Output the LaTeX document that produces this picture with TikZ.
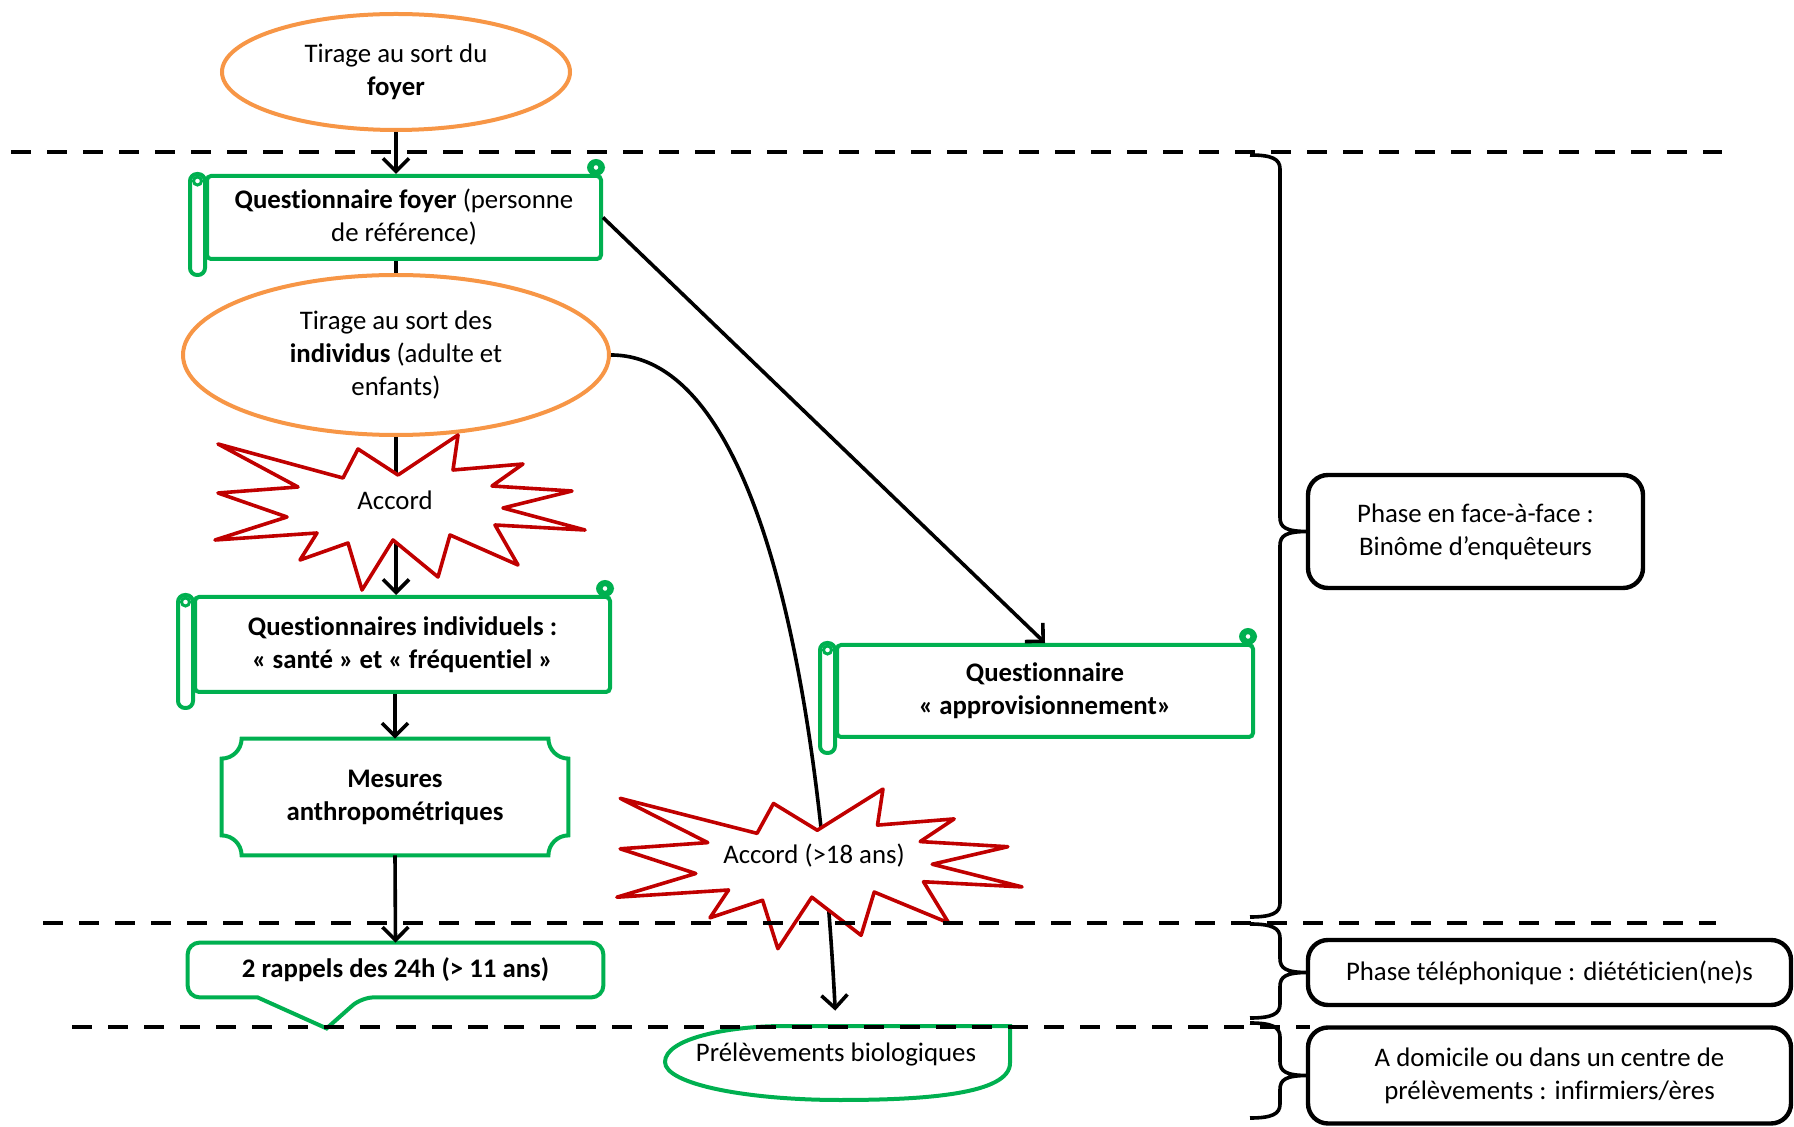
\documentclass[tikz,border=0pt]{standalone}
\usepackage{fontspec}
\setmainfont{Carlito}[Ligatures={TeX,NoCommon}]
\usetikzlibrary{shapes.geometric,calc,arrows.meta}
\definecolor{vert}{RGB}{0,176,80}
\definecolor{orangeo}{RGB}{247,150,70}
\definecolor{rouge}{RGB}{192,0,0}
\tikzset{every node/.style={font=\fontsize{13.4}{16.5}\selectfont, align=center},
  gras/.style={font=\fontsize{13.4}{16.5}\selectfont\bfseries},
  tirage/.style={ellipse, draw=orangeo, line width=2pt, fill=white, inner sep=0pt},
  scroll/.style={draw=vert, line width=2pt, rounded corners=2pt, inner sep=0pt},
  vline/.style={draw=vert, line width=2pt},
  burst/.style={draw=rouge, line width=1.8pt, fill=white, line join=round},
  flow/.style={line width=1.8pt, -{Straight Barb[length=6.5pt,width=13pt]}},
  sep/.style={line width=2pt, dash pattern=on 10pt off 8pt},
  phase/.style={draw, line width=2.2pt, rounded corners=10pt, inner sep=0pt, outer sep=0pt},
  accol/.style={line width=1.8pt}}

% rolls of the scroll boxes
\newcommand\scrollroll[1]{%
  \draw[vline, rounded corners=3.5pt] ($(#1.north west)+(-15,0)$) rectangle ($(#1.south west)+(0,14)$);
  \draw[vline, line width=1.5pt] ($(#1.north west)+(-7.5,7)$) circle (2pt);
  \draw[vline, rounded corners=3.5pt] ($(#1.north east)+(-14,0)$) rectangle ($(#1.north east)+(0,-13)$);
  \draw[vline, line width=1.5pt] ($(#1.north east)+(-7,-6.5)$) circle (2pt);}
\newcommand\plaqueshape[1]{%
  \draw[vline] ($(#1.north west)+(20,0)$) -- ($(#1.north east)+(-20,0)$)
    .. controls ($(#1.north east)+(-20,11)$) and ($(#1.north east)+(-11,20)$) .. ($(#1.north east)+(0,20)$)
    -- ($(#1.south east)+(0,-20)$)
    .. controls ($(#1.south east)+(-11,-20)$) and ($(#1.south east)+(-20,-11)$) .. ($(#1.south east)+(-20,0)$)
    -- ($(#1.south west)+(20,0)$)
    .. controls ($(#1.south west)+(20,-11)$) and ($(#1.south west)+(11,-20)$) .. ($(#1.south west)+(0,-20)$)
    -- ($(#1.north west)+(0,20)$)
    .. controls ($(#1.north west)+(11,20)$) and ($(#1.north west)+(20,11)$) .. cycle;}
\newcommand\bullepath[1]{%
  \draw[vline, rounded corners=6pt] (#1.north west) -- (#1.north east) -- (#1.south east)
    -- ($(#1.south west)+(174,0)$) [sharp corners] -- ($(#1.south west)+(139,31)$)
    -- ($(#1.south west)+(70,0)$) [rounded corners=6pt] -- (#1.south west) -- cycle;}
\newcommand\explosion[5]{%
  \draw[burst, shift={#2}, xscale=#3, yscale=#4] (-177,-56) -- (-52,-22) -- (-37,-51) -- (3,-25)
    -- (63,-65) -- (58,-30) -- (128,-36) -- (97,-14) -- (177,-9) -- (108,8) -- (190,30) -- (100,25)
    -- (123,65) -- (55,35) -- (43,77) -- (-2,40) -- (-33,90) -- (-47,43) -- (-95,60) -- (-78,33)
    -- (-180,40) -- (-108,17) -- (-177,-7) -- (-97,-13) -- cycle;
  \node (#1) at #2 {#5};}
\newcommand\phasebrace[3]{%
  \draw[accol] (1250,#1) .. controls (1272,#1) and (1280,#1+4) .. (1280,#1+14)
    -- ($(#3.west)+(-28,-14)$) .. controls ($(#3.west)+(-28,-4)$) and ($(#3.west)+(-22,0)$) .. (#3.west)
    .. controls ($(#3.west)+(-22,0)$) and ($(#3.west)+(-28,4)$) .. ($(#3.west)+(-28,14)$)
    -- (1280,#2-14) .. controls (1280,#2-4) and (1272,#2) .. (1250,#2);}

\begin{document}
\begin{tikzpicture}[x=0.5pt, y=-0.5pt]
  \useasboundingbox (0,0) rectangle (1794,1127);

  \node[tirage, minimum width=174pt, minimum height=58pt] (tf) at (396,72) {Tirage au sort du\\\textbf{foyer}};
  \node[scroll, minimum width=197pt, minimum height=41.5pt] (qf) at (404,217.5) {\textbf{Questionnaire foyer} (personne\\de référence)};
  \scrollroll{qf}
  \node[tirage, minimum width=213pt, minimum height=80pt] (ti) at (396,355) {Tirage au sort des\\\textbf{individus} (adulte et\\enfants)};
  \node[scroll, gras, minimum width=207.5pt, minimum height=47.5pt] (qi) at (402.5,644.5) {Questionnaires individuels :\\« santé » et « fréquentiel »};
  \scrollroll{qi}
  \node[gras, minimum width=173pt, minimum height=58pt] (mes) at (395,797) {Mesures\\anthropométriques};
  \plaqueshape{mes}
  \node[gras, minimum width=207.5pt, minimum height=27pt] (rap) at (395.5,970) {2 rappels des 24h (> 11 ans)};
  \bullepath{rap}
  \node[scroll, gras, minimum width=208pt, minimum height=46pt] (app) at (1045,691) {Questionnaire\\« approvisionnement»};
  \scrollroll{app}
  \node[minimum width=173pt, minimum height=28pt] (bio) at (836,1054) {Prélèvements biologiques};
  \draw[vline, shift={(bio)}] (174,-28) -- (174,9) .. controls (174,40) and (90,46) .. (4,46)
    .. controls (-90,46) and (-171,30) .. (-171,8) .. controls (-171,-15) and (-110,-28) .. (-51,-28) -- cycle;

  \draw[flow] (tf.south) -- (tf.south |- qf.north);
  \draw[line width=1.8pt] (qf.south -| ti.north) -- (ti.north);
  \draw[flow] (ti.south) -- (ti.south |- qi.north);
  \draw[flow] (qi.south -| mes.north) -- (mes.north);
  \draw[flow] (mes.south) -- (rap.north);
  \draw[flow] (qf.east) -- (app.north);
  \draw[flow, shorten >=7.5pt] (ti.east) .. controls +(131,0) and +(-21,-406) .. (bio.north);

  \explosion{acc}{(395,500)}{1}{1}{Accord}
  \explosion{acc18}{(814,856)}{1.095}{1.03}{Accord (>18 ans)}

  \draw[sep] (11,152) -- (1722,152);
  \draw[sep] (43,923) -- (1716,923);
  \draw[sep] (72,1027) -- (1310,1027);

  \node[phase, minimum width=167.5pt, minimum height=56.5pt] (ph1) at (1475.5,531.5) {Phase en face-à-face :\\Binôme d’enquêteurs};
  \node[phase, minimum width=241.5pt, minimum height=32.5pt] (ph2) at (1549.5,972.5) {Phase téléphonique : diététicien(ne)s};
  \node[phase, minimum width=241.5pt, minimum height=48pt] (ph3) at (1549.5,1075.5) {A domicile ou dans un centre de\\prélèvements : infirmiers/ères};
  \phasebrace{155}{917}{ph1}
  \phasebrace{924}{1018}{ph2}
  \phasebrace{1023}{1118}{ph3}
\end{tikzpicture}
\end{document}
